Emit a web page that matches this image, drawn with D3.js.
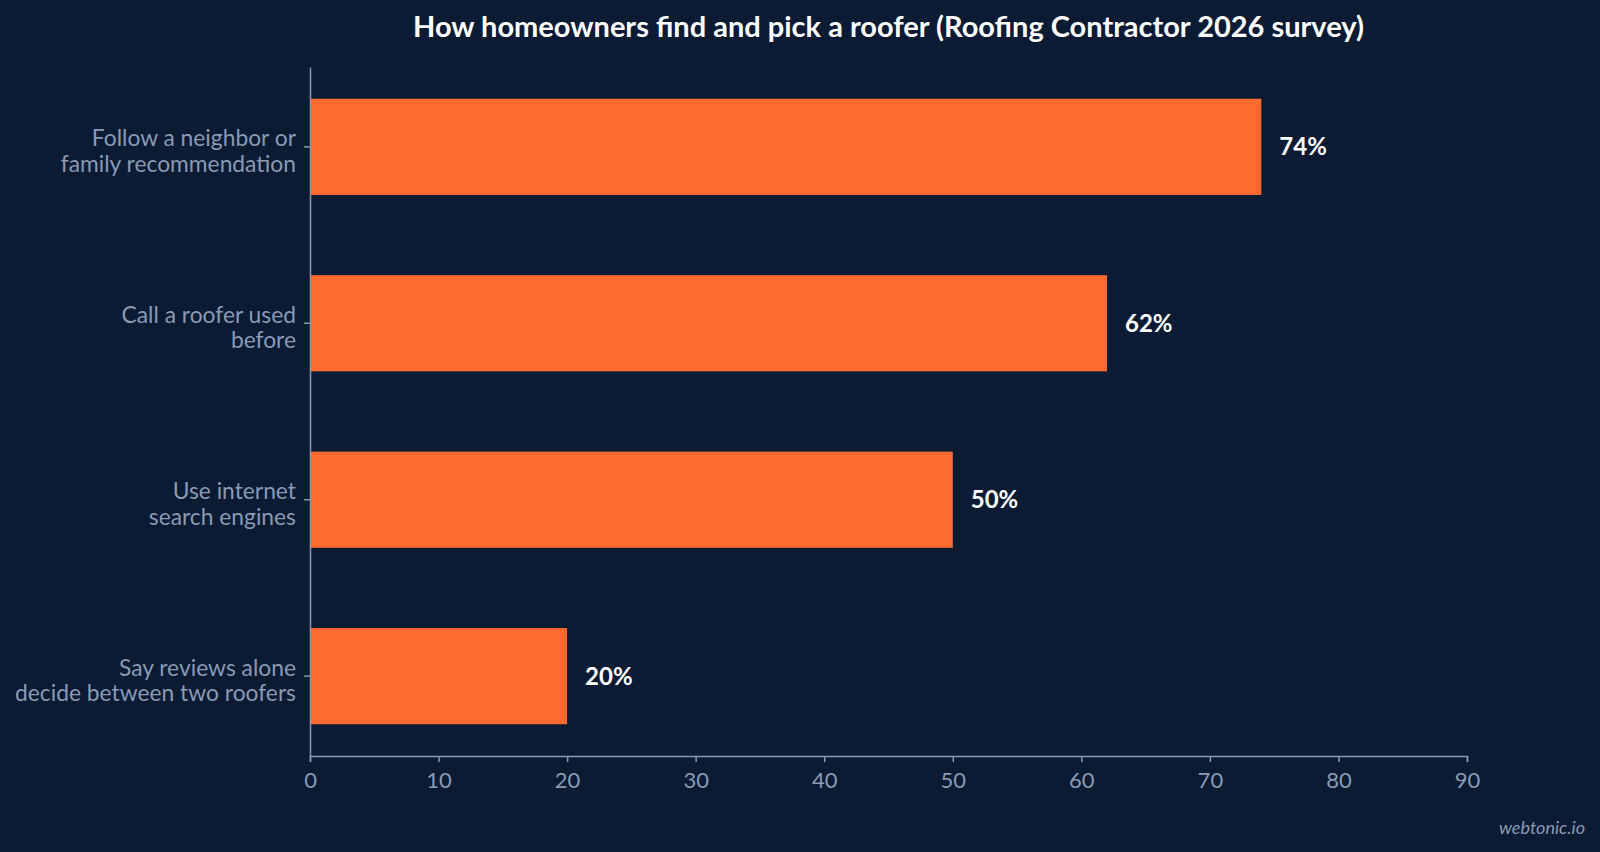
<!DOCTYPE html>
<html>
<head>
<meta charset="utf-8">
<script src="https://cdn.jsdelivr.net/npm/d3@7"></script>
<style>
  html, body { margin: 0; padding: 0; background: #0b1b34; }
  svg { display: block; }
  text { font-family: Lato, "Open Sans", sans-serif; }
</style>
</head>
<body>
<script>
(function(){
  var canvasWidth = 1600;
  var canvasHeight = 852;

  // data
  var categories = [
    ["Follow a neighbor or", "family recommendation"],
    ["Call a roofer used", "before"],
    ["Use internet", "search engines"],
    ["Say reviews alone", "decide between two roofers"]
  ];
  var shares = [74, 62, 50, 20];
  var xTicks = [0, 10, 20, 30, 40, 50, 60, 70, 80, 90];

  var margin = { top: 67, right: 133, bottom: 96, left: 310 };
  var plotW = canvasWidth - margin.left - margin.right;
  var plotH = canvasHeight - margin.top - margin.bottom;

  var axisColor = "#8a9ab3";
  var barColor = "#ff6b2e";

  var svg = d3.select("body").append("svg")
    .attr("width", canvasWidth)
    .attr("height", canvasHeight);

  svg.append("rect")
    .attr("width", canvasWidth)
    .attr("height", canvasHeight)
    .attr("fill", "#0b1b34");

  svg.append("text")
    .attr("x", margin.left + plotW / 2)
    .attr("y", 37)
    .attr("text-anchor", "middle")
    .attr("fill", "#ffffff")
    .style("font-size", "29px")
    .style("font-weight", "bold")
    .text("How homeowners find and pick a roofer (Roofing Contractor 2026 survey)");

  var g = svg.append("g")
    .attr("transform", "translate(" + margin.left + "," + margin.top + ")");

  var x = d3.scaleLinear().domain([0, 90]).range([0, plotW]);
  var y = d3.scaleBand()
    .domain(d3.range(categories.length))
    .range([0, plotH])
    .paddingInner(0.455)
    .paddingOuter(0.18);

  // x axis
  var xAxis = g.append("g")
    .attr("transform", "translate(0," + plotH + ")")
    .call(d3.axisBottom(x).tickValues(xTicks).tickSize(6).tickPadding(10));
  xAxis.selectAll("path, line").attr("stroke", axisColor).attr("stroke-width", 1.5);
  xAxis.selectAll("text")
    .attr("fill", axisColor)
    .style("font-size", "22px");

  // y axis
  var yAxis = g.append("g")
    .call(d3.axisLeft(y).tickSize(6).tickSizeOuter(0).tickFormat(""));
  yAxis.selectAll("path, line").attr("stroke", axisColor).attr("stroke-width", 1.5);

  var labels = g.append("g").selectAll("text")
    .data(categories)
    .join("text")
    .attr("x", -14)
    .attr("y", (d, i) => y(i) + y.bandwidth() / 2)
    .attr("text-anchor", "end")
    .attr("fill", axisColor)
    .style("font-size", "22.8px");
  labels.selectAll("tspan")
    .data(d => d)
    .join("tspan")
    .attr("x", -14)
    .attr("dy", (d, i) => i === 0 ? "-0.02em" : "1.12em")
    .text(d => d);

  // bars
  g.selectAll("rect.bar")
    .data(shares)
    .join("rect")
    .attr("class", "bar")
    .attr("x", x(0) + 1)
    .attr("y", (d, i) => y(i))
    .attr("width", d => x(d) - x(0) - 1)
    .attr("height", y.bandwidth())
    .attr("fill", barColor);

  g.selectAll("text.value")
    .data(shares)
    .join("text")
    .attr("class", "value")
    .attr("x", d => x(d) + 18)
    .attr("y", (d, i) => y(i) + y.bandwidth() / 2)
    .attr("dy", "0.35em")
    .attr("fill", "#ffffff")
    .style("font-size", "24px")
    .style("font-weight", "bold")
    .text(d => d + "%");

  svg.append("text")
    .attr("x", 1585)
    .attr("y", 834)
    .attr("text-anchor", "end")
    .attr("fill", axisColor)
    .style("font-size", "18px")
    .style("font-style", "italic")
    .text("webtonic.io");
})();
</script>
</body>
</html>
